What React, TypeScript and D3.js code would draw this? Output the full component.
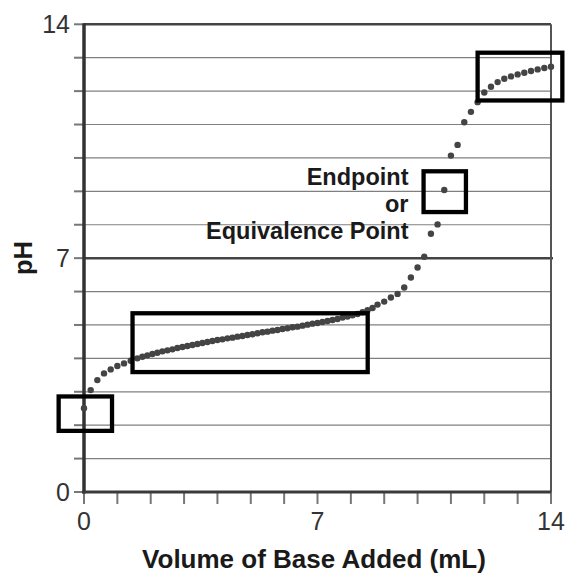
import React, { useEffect, useRef } from 'react';
import * as d3 from 'd3';

// titration curve
const volume = [
  0, 0.2, 0.4, 0.6, 0.8, 1.0, 1.2, 1.4, 1.6,
  1.75, 1.9, 2.05, 2.2, 2.35, 2.5, 2.65, 2.8, 2.95, 3.1,
  3.25, 3.4, 3.55, 3.7, 3.85, 4.0, 4.15, 4.3, 4.45, 4.6,
  4.75, 4.9, 5.05, 5.2, 5.35, 5.5, 5.65, 5.8, 5.95, 6.1,
  6.25, 6.4, 6.55, 6.7, 6.85, 7.0, 7.15, 7.3, 7.45, 7.6,
  7.75, 7.9, 8.05, 8.2, 8.35, 8.5, 8.65, 8.8,
  9.0, 9.2, 9.4, 9.6, 9.8, 10.0, 10.2, 10.4, 10.6, 10.8,
  11.0, 11.2, 11.4, 11.6, 11.8, 12.0, 12.2, 12.4, 12.6, 12.8,
  13.0, 13.2, 13.4, 13.6, 13.8, 14.0,
];
const ph = [
  2.51, 3.05, 3.35, 3.55, 3.67, 3.77, 3.85, 3.93, 4.0,
  4.05, 4.09, 4.13, 4.17, 4.21, 4.24, 4.27, 4.31, 4.34, 4.37,
  4.4, 4.43, 4.46, 4.49, 4.52, 4.55, 4.57, 4.6, 4.62, 4.65,
  4.67, 4.7, 4.72, 4.75, 4.78, 4.8, 4.83, 4.85, 4.88, 4.9,
  4.93, 4.95, 4.98, 5.01, 5.04, 5.06, 5.09, 5.12, 5.15, 5.18,
  5.22, 5.25, 5.29, 5.33, 5.38, 5.44, 5.51, 5.61,
  5.7, 5.82, 5.93, 6.12, 6.42, 6.72, 7.04, 7.73, 8.01, 9.04,
  10.07, 10.39, 11.07, 11.38, 11.67, 11.96, 12.13, 12.27, 12.37, 12.44,
  12.5, 12.55, 12.6, 12.65, 12.69, 12.73,
];

const xTickLabels = [0, 7, 14];
const yTickLabels = [0, 7, 14];
const annotation = ['Endpoint', 'or', 'Equivalence Point'];

// highlight boxes in data units: [x0, x1, y0, y1]
const boxes = [
  [-0.76, 0.84, 1.83, 2.86],
  [1.455, 8.505, 3.59, 5.35],
  [10.18, 11.45, 8.38, 9.6],
  [11.8, 14.34, 11.72, 13.15],
];

const TitrationChart = () => {
  const ref = useRef<SVGSVGElement>(null);

  useEffect(() => {
    const svg = d3.select(ref.current);
    svg.selectAll('*').remove();

    const width = 566, height = 573;
    svg.attr('width', width).attr('height', height);

    const x = d3.scaleLinear().domain([0, 14]).range([84, 551]);
    const y = d3.scaleLinear().domain([0, 14]).range([492, 24.3]);
    const font = "'Liberation Sans', Arial, sans-serif";

    svg.append('rect').attr('width', width).attr('height', height).attr('fill', '#fff');

    // horizontal grid
    const steps = d3.range(0, 15);
    steps.forEach((v) => {
      if (v === 0) return;
      const heavy = v === 7 || v === 14;
      svg.append('line')
        .attr('x1', x(0)).attr('x2', x(14) + (v === 7 ? 2 : 0))
        .attr('y1', y(v)).attr('y2', y(v))
        .attr('stroke', heavy ? '#444' : '#808080')
        .attr('stroke-width', heavy ? 2.5 : 1.2);
    });

    // right border
    svg.append('line')
      .attr('x1', x(14)).attr('x2', x(14))
      .attr('y1', y(14)).attr('y2', y(0))
      .attr('stroke', '#555').attr('stroke-width', 2);

    // y ticks
    steps.forEach((v) => {
      svg.append('line')
        .attr('x1', x(0) - 10).attr('x2', x(0))
        .attr('y1', y(v)).attr('y2', y(v))
        .attr('stroke', '#777').attr('stroke-width', 2);
    });
    // x ticks
    steps.forEach((v) => {
      svg.append('line')
        .attr('x1', x(v)).attr('x2', x(v))
        .attr('y1', y(0)).attr('y2', y(0) + 12)
        .attr('stroke', '#777').attr('stroke-width', 2);
    });

    // axes
    svg.append('line')
      .attr('x1', x(0)).attr('x2', x(0))
      .attr('y1', y(14) - 1).attr('y2', y(0) + 1.5)
      .attr('stroke', '#333').attr('stroke-width', 3.5);
    svg.append('line')
      .attr('x1', x(0) - 2).attr('x2', x(14))
      .attr('y1', y(0)).attr('y2', y(0))
      .attr('stroke', '#3a3a3a').attr('stroke-width', 3);

    // tick labels
    yTickLabels.forEach((v) => {
      svg.append('text')
        .attr('x', 70).attr('y', y(v)).attr('dy', '0.36em')
        .attr('text-anchor', 'end')
        .attr('font-family', font).attr('font-size', 25)
        .attr('fill', '#333').text(v);
    });
    xTickLabels.forEach((v) => {
      svg.append('text')
        .attr('x', x(v)).attr('y', 530)
        .attr('text-anchor', 'middle')
        .attr('font-family', font).attr('font-size', 25)
        .attr('fill', '#333').text(v);
    });

    // points
    svg.append('g')
      .selectAll('circle')
      .data(volume.map((v, i) => [v, ph[i]]))
      .join('circle')
      .attr('cx', (d) => x(d[0]))
      .attr('cy', (d) => y(d[1]))
      .attr('r', 3.2)
      .attr('fill', '#444');

    // boxes
    boxes.forEach(([x0, x1, y0, y1]) => {
      svg.append('rect')
        .attr('x', x(x0)).attr('y', y(y1))
        .attr('width', x(x1) - x(x0)).attr('height', y(y0) - y(y1))
        .attr('fill', 'none').attr('stroke', '#000').attr('stroke-width', 4.3);
    });

    // annotation
    annotation.forEach((t, i) => {
      svg.append('text')
        .attr('x', 408.5).attr('y', 185 + i * 27)
        .attr('text-anchor', 'end')
        .attr('font-family', font).attr('font-size', 23.5).attr('font-weight', 'bold')
        .attr('fill', '#1a1a1a').text(t);
    });

    // axis titles
    svg.append('text')
      .attr('x', 314).attr('y', 568)
      .attr('text-anchor', 'middle')
      .attr('font-family', font).attr('font-size', 26).attr('font-weight', 'bold')
      .attr('fill', '#1a1a1a').text('Volume of Base Added (mL)');
    svg.append('text')
      .attr('transform', `translate(32, 258) rotate(-90)`)
      .attr('text-anchor', 'middle')
      .attr('font-family', font).attr('font-size', 25.5).attr('font-weight', 'bold')
      .attr('fill', '#1a1a1a').text('pH');
  }, []);

  return <svg ref={ref} style={{ position: 'absolute', left: 0, top: 0 }}></svg>;
};

export default function App() {
  return <TitrationChart />;
}
